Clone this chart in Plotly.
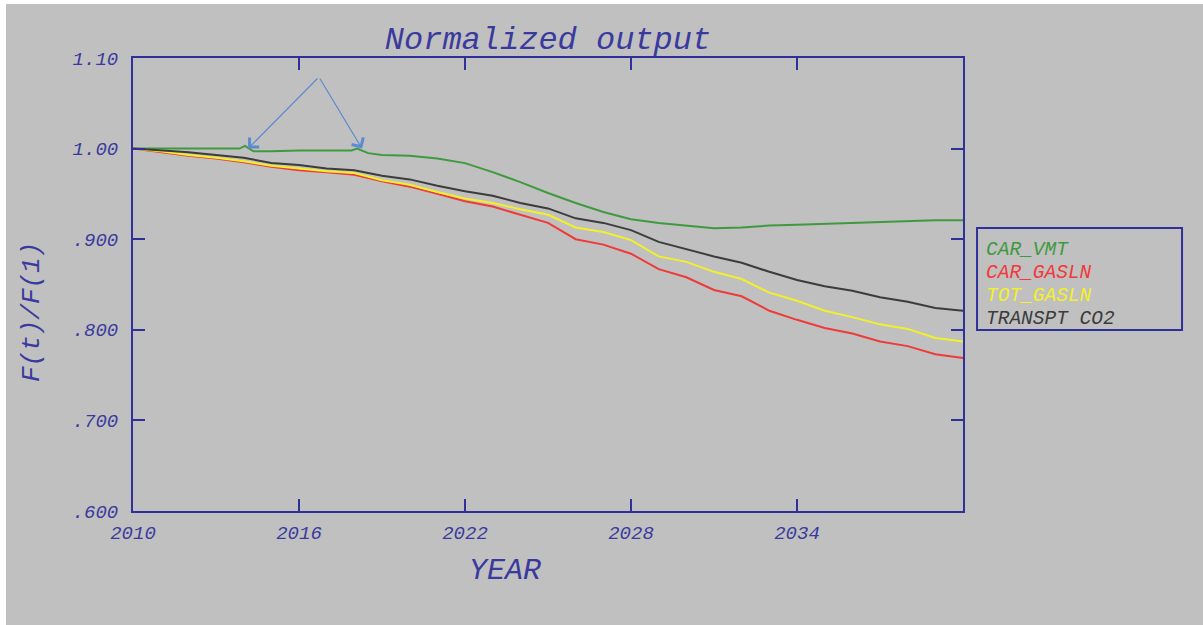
import plotly.graph_objects as go

years = list(range(2010, 2041))

car_vmt_years = [2010, 2011, 2012, 2013, 2013.85, 2014.05, 2014.35, 2015, 2016, 2017,
                 2017.9, 2018.1, 2018.5, 2019, 2020, 2021, 2022, 2023, 2024, 2025,
                 2026, 2027, 2028, 2029, 2030, 2031, 2032, 2033, 2034, 2035, 2036,
                 2037, 2038, 2039, 2040]
car_vmt = [1.000, 1.000, 1.000, 1.000, 1.000, 1.003, 0.997, 0.997, 0.998, 0.998,
           0.998, 1.000, 0.995, 0.993, 0.992, 0.989, 0.984, 0.974, 0.963, 0.951,
           0.940, 0.930, 0.922, 0.918, 0.915, 0.912, 0.913, 0.915, 0.916, 0.917,
           0.918, 0.919, 0.920, 0.921, 0.921]

car_gasln = [1.000, 0.996, 0.992, 0.989, 0.985, 0.980, 0.976, 0.974, 0.971, 0.964,
             0.958, 0.950, 0.942, 0.936, 0.927, 0.918, 0.900, 0.894, 0.884, 0.867,
             0.858, 0.844, 0.837, 0.821, 0.811, 0.802, 0.796, 0.787, 0.782, 0.773,
             0.769]

tot_gasln = [1.000, 0.997, 0.993, 0.990, 0.986, 0.981, 0.978, 0.975, 0.973, 0.965,
             0.960, 0.952, 0.945, 0.940, 0.933, 0.927, 0.913, 0.908, 0.899, 0.881,
             0.875, 0.864, 0.856, 0.841, 0.832, 0.821, 0.814, 0.806, 0.801, 0.791,
             0.787]

transpt_co2 = [1.000, 0.998, 0.996, 0.993, 0.990, 0.984, 0.982, 0.978, 0.976, 0.970,
               0.966, 0.959, 0.953, 0.948, 0.940, 0.934, 0.923, 0.918, 0.910, 0.897,
               0.889, 0.881, 0.874, 0.864, 0.855, 0.848, 0.843, 0.836, 0.831, 0.824,
               0.821]

series_names = ["CAR_VMT", "CAR_GASLN", "TOT_GASLN", "TRANSPT CO2"]
series_colors = ["#3f9a3f", "#f03a3a", "#f2f02a", "#3c3c3c"]

x_tickvals = [2010, 2016, 2022, 2028, 2034]
x_ticktext = ["2010", "2016", "2022", "2028", "2034"]
y_tickvals = [0.6, 0.7, 0.8, 0.9, 1.0, 1.1]
y_ticktext = [".600", ".700", ".800", ".900", "1.00", "1.10"]

# arrows: (tip_x, tip_y) from a common apex
arrow_apex = (2016.72, 1.079)
arrow_tips = [(2014.16, 1.000), (2018.28, 1.000)]

BG = "#c0c0c0"
AX = "#30309a"
TXT = "#3a3a9e"
FONT = "Liberation Mono, Courier New, monospace"

fig = go.Figure()
xs_list = [car_vmt_years, years, years, years]
ys_list = [car_vmt, car_gasln, tot_gasln, transpt_co2]
for name, col, xs, ys in zip(series_names, series_colors, xs_list, ys_list):
    fig.add_trace(go.Scatter(x=xs, y=ys, mode="lines", name=name,
                             line=dict(color=col, width=2), showlegend=False))

axis_common = dict(showline=True, linecolor=AX, linewidth=2, mirror="ticks",
                   ticks="inside", ticklen=12, tickwidth=2, tickcolor=AX,
                   showgrid=False, zeroline=False,
                   tickfont=dict(family=FONT, size=19, color=TXT, style="italic"))

fig.update_xaxes(range=[2010, 2040], tickmode="array", tickvals=x_tickvals,
                 ticktext=x_ticktext, ticklabelstandoff=3, **axis_common)
fig.update_yaxes(range=[0.6, 1.10], tickmode="array", tickvals=y_tickvals,
                 ticktext=y_ticktext, ticklabelstandoff=9, **axis_common)

annotations = []
for tx, ty in arrow_tips:
    annotations.append(dict(x=tx, y=ty, xref="x", yref="y", ax=arrow_apex[0],
                            ay=arrow_apex[1], axref="x", ayref="y", text="",
                            showarrow=True, arrowhead=4, arrowsize=2.2,
                            arrowwidth=1.2, arrowcolor="#5b8bd0"))

annotations.append(dict(text="F(t)/F(1)", x=-0.1217, y=0.439, xref="paper",
                        yref="paper", showarrow=False, textangle=-90,
                        font=dict(family=FONT, size=26, color=TXT, style="italic"),
                        xanchor="center", yanchor="middle"))
annotations.append(dict(text="YEAR", x=0.448, y=-0.1325, xref="paper", yref="paper",
                        showarrow=False,
                        font=dict(family=FONT, size=30, color=TXT, style="italic"),
                        xanchor="center", yanchor="middle"))

legend_py = [250, 273, 296, 319]
for name, col, py in zip(series_names, series_colors, legend_py):
    annotations.append(dict(text=name, x=(984 - 133) / 830, y=(511 - py) / 453,
                            xref="paper", yref="paper", showarrow=False,
                            xanchor="left", yanchor="middle",
                            font=dict(family=FONT, size=19.5, color=col, style="italic")))

shapes = [
    dict(type="rect", xref="paper", yref="paper", x0=-0.17, x1=(6 - 133) / 830,
         y0=-0.3, y1=1.2, fillcolor="white", line=dict(width=0), layer="below"),
    dict(type="rect", xref="paper", yref="paper", x0=-0.17, x1=1.3,
         y0=(511 - 4) / 453, y1=1.2, fillcolor="white", line=dict(width=0), layer="below"),
    dict(type="rect", xref="paper", yref="paper", x0=1.0169, x1=1.2639,
         y0=0.3996, y1=0.6247, line=dict(color=AX, width=2), fillcolor="rgba(0,0,0,0)"),
]

fig.update_layout(
    width=1203, height=625,
    margin=dict(l=133, r=240, t=58, b=114),
    paper_bgcolor=BG, plot_bgcolor=BG,
    title=dict(text="Normalized output", x=0.5, xref="paper", y=1 - 38 / 625,
               yanchor="middle", xanchor="center",
               font=dict(family=FONT, size=32, color=TXT, style="italic")),
    annotations=annotations, shapes=shapes, showlegend=False,
)

fig.write_html("out.html", config={"displayModeBar": False},
               post_script="document.body.style.margin='0';")
